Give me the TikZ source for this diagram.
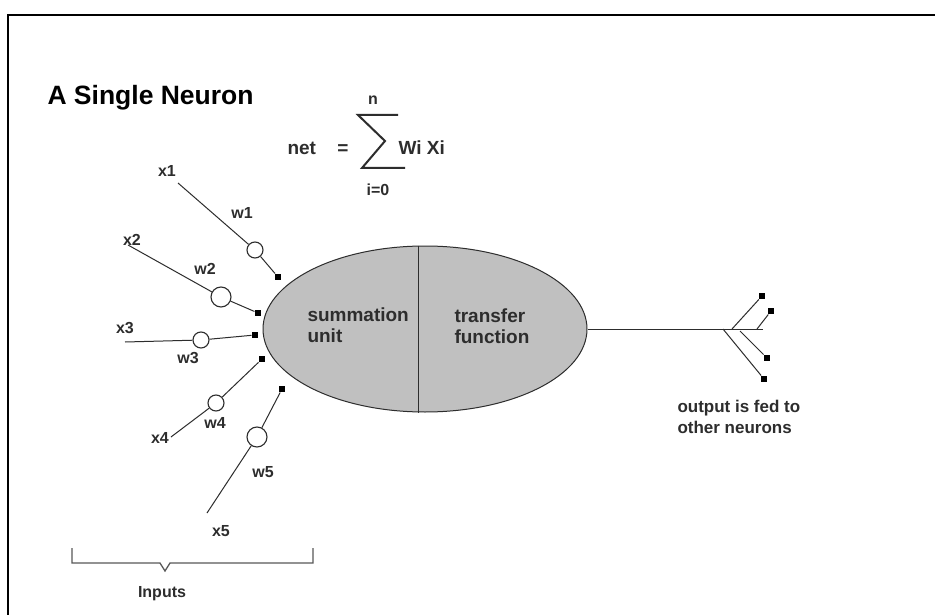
\documentclass[tikz,border=0pt]{standalone}
\usepackage{fontspec}
\setmainfont{Liberation Sans}
\usetikzlibrary{shapes.geometric}
\definecolor{cellgray}{RGB}{192,192,192}
\definecolor{inkgray}{RGB}{45,45,45}

\begin{document}
\begin{tikzpicture}[x=1pt, y=-1pt, line width=1pt, draw=inkgray,
    lbl/.style={font=\fontsize{16}{19}\selectfont\bfseries, inner sep=0, text=inkgray},
    big/.style={font=\fontsize{19}{21}\selectfont\bfseries, inner sep=0, text=inkgray, align=left},
    syn/.style={circle, draw=inkgray, fill=white, line width=1.1pt, inner sep=0},
    pin/.style={rectangle, fill=black, inner sep=0, minimum size=6pt}]
			\useasboundingbox (0,0) rectangle (935,615);
			\fill[white] (0,0) rectangle (935,615);
			% frame
			\coordinate (ftl) at (8,15);
			\draw[black, line width=2pt] (935,15) -- (ftl) -- (8,615);

			\node (title) at (47,105)[anchor=base west, font=\fontsize{26.5}{30}\selectfont\bfseries, inner sep=0, text=black]{A Single Neuron};

			% net = sum Wi Xi
			\node (net) at (287,155)[anchor=base west, big]{net};
			\node (eq) at (343,155)[anchor=base, big]{=};
			\node (wx) at (398,155)[anchor=base west, big]{Wi Xi};
			\node (sn) at (373,100)[lbl]{n};
			\node (si) at (378,190)[lbl]{i=0};
			\draw[line width=2pt, line join=miter] (398,115) -- (358,115) -- (385,141) -- (362,168) -- (405,168);

			% the neuron
			\node (neuron) at (425,329)[ellipse, draw=inkgray, fill=cellgray, minimum width=324pt, minimum height=166pt, inner sep=0]{};
			\draw ([xshift=-7pt]neuron.north) -- ([xshift=-7pt]neuron.south);
			\node (sum) at (307,342)[anchor=base west, big]{summation\\unit};
			\node (tf) at (454,343)[anchor=base west, big]{transfer\\function};

			% inputs
			\node (x1) at (167,171)[lbl]{x1};
			\node (w1) at (242,213)[lbl]{w1};
			\coordinate (x1e) at (178,183);
			\node (c1) at (255,250)[syn, minimum size=16pt]{};
			\node (s1) at (278,277)[pin]{};
			\draw (x1e) -- (c1) -- (s1);

			\node (x2) at (132,240)[lbl]{x2};
			\node (w2) at (205,269)[lbl]{w2};
			\coordinate (x2e) at (128,245);
			\node (c2) at (221,297)[syn, minimum size=20pt]{};
			\node (s2) at (258,313)[pin]{};
			\draw (x2e) -- (c2) -- (s2);

			\node (x3) at (125,328)[lbl]{x3};
			\node (w3) at (188,358)[lbl]{w3};
			\coordinate (x3e) at (125,342);
			\node (c3) at (201,340)[syn, minimum size=16pt]{};
			\node (s3) at (255,335)[pin]{};
			\draw (x3e) -- (c3) -- (s3);

			\node (x4) at (160,438)[lbl]{x4};
			\node (w4) at (215,423)[lbl]{w4};
			\coordinate (x4e) at (171,437);
			\node (c4) at (216,403)[syn, minimum size=16pt]{};
			\node (s4) at (262,359)[pin]{};
			\draw (x4e) -- (c4) -- (s4);

			\node (x5) at (221,531)[lbl]{x5};
			\node (w5) at (263,472)[lbl]{w5};
			\coordinate (x5e) at (207,513);
			\node (c5) at (257,437)[syn, minimum size=20pt]{};
			\node (s5) at (282,389)[pin]{};
			\draw (x5e) -- (c5) -- (s5);

			% brace under the inputs
			\coordinate (bl) at (72,548);
			\coordinate (br) at (313,548);
			\draw[line width=1.3pt, gray!70!black] (bl) -- (72,563) -- (160,563) -- (165,571) -- (170,563) -- (313,563) -- (br);
			\node (inputs) at (162,594)[lbl]{Inputs};

			% output
			\coordinate (oend) at (763,329);
			\draw (neuron.east) -- (oend);
			\coordinate (b1) at (732,329);
			\coordinate (b2) at (757,329);
			\coordinate (b3) at (740,331);
			\coordinate (b4) at (723,329);
			\node (o1) at (762,296)[pin]{};
			\node (o2) at (771,311)[pin]{};
			\node (o3) at (767,358)[pin]{};
			\node (o4) at (764,379)[pin]{};
			\draw (b1) -- (o1);
			\draw (b2) -- (o2);
			\draw (b3) -- (o3);
			\draw (b4) -- (o4);
			\node (out) at (677,433)[anchor=base west, font=\fontsize{17}{21}\selectfont\bfseries, inner sep=0, text=inkgray, align=left]{output is fed to\\other neurons};
		\end{tikzpicture}
\end{document}
